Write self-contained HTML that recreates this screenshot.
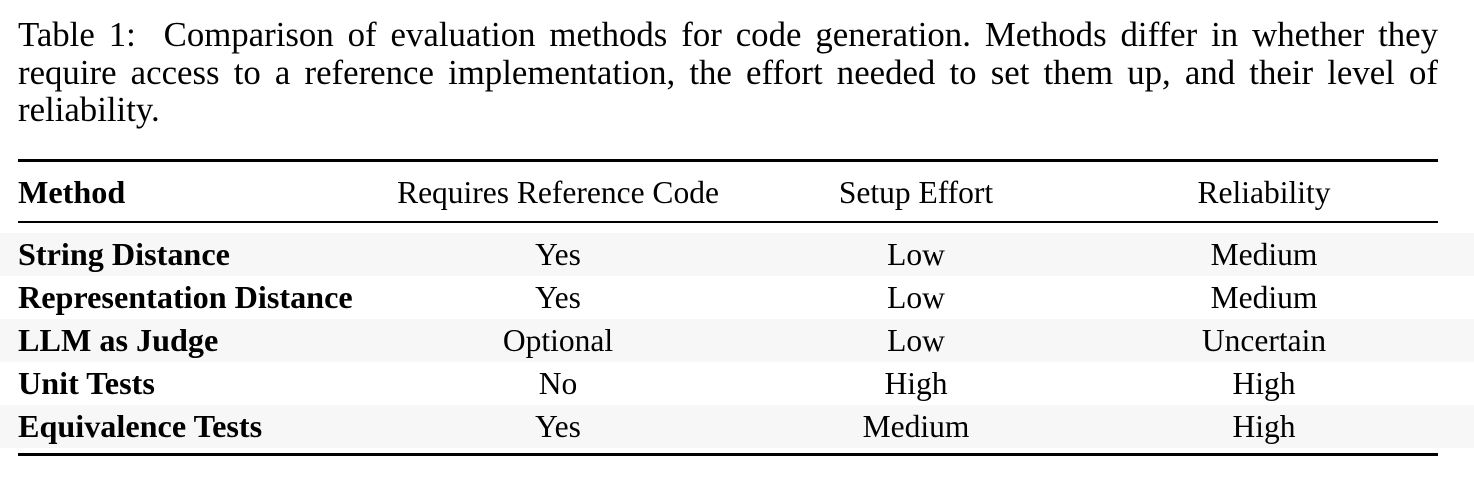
<!DOCTYPE html>
<html><head><meta charset="utf-8"><style>
html,body{margin:0;padding:0;background:#fff;width:1474px;height:482px;overflow:hidden}
body{font-family:"Liberation Serif",serif;color:#000;position:relative}
.cl{position:absolute;left:18px;width:1420px;font-size:34.8px;line-height:38px;white-space:nowrap}
.j{text-align:justify;text-align-last:justify}
.rule{position:absolute;left:18px;width:1420px;background:#000}
.row{position:absolute;left:0;width:1474px;height:43px}
.shade{background:#f7f7f7}
.c{position:absolute;font-size:31.5px;line-height:43px;white-space:nowrap}
.m{left:18px;font-weight:bold;font-size:32.2px}
.c1{left:558px;transform:translateX(-50%)}
.c2{left:916px;transform:translateX(-50%)}
.c3{left:1264px;transform:translateX(-50%)}
</style></head><body>
<div>
<div class="cl j" style="top:16px">Table 1:&nbsp; Comparison of evaluation methods for code generation. Methods differ in whether they</div>
<div class="cl j" style="top:54px">require access to a reference implementation, the effort needed to set them up, and their level of</div>
<div class="cl" style="top:91px">reliability.</div>
</div>
<div class="rule" style="top:159px;height:3px"></div>
<div class="row" style="top:171px">
<span class="c m">Method</span>
<span class="c c1">Requires Reference Code</span>
<span class="c c2">Setup Effort</span>
<span class="c c3">Reliability</span>
</div>
<div class="rule" style="top:221px;height:2px"></div>
<div class="row shade" style="top:233px">
<span class="c m">String Distance</span><span class="c c1">Yes</span><span class="c c2">Low</span><span class="c c3">Medium</span></div>
<div class="row" style="top:276px">
<span class="c m">Representation Distance</span><span class="c c1">Yes</span><span class="c c2">Low</span><span class="c c3">Medium</span></div>
<div class="row shade" style="top:319px">
<span class="c m">LLM as Judge</span><span class="c c1">Optional</span><span class="c c2">Low</span><span class="c c3">Uncertain</span></div>
<div class="row" style="top:362px">
<span class="c m">Unit Tests</span><span class="c c1">No</span><span class="c c2">High</span><span class="c c3">High</span></div>
<div class="row shade" style="top:405px">
<span class="c m">Equivalence Tests</span><span class="c c1">Yes</span><span class="c c2">Medium</span><span class="c c3">High</span></div>
<div class="rule" style="top:453px;height:3px"></div>
</body></html>
